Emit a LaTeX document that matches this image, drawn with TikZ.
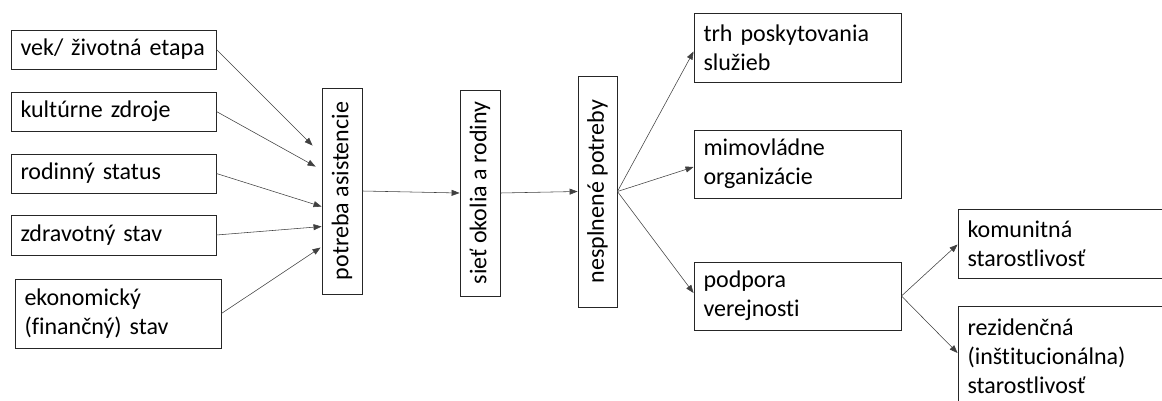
\documentclass[tikz,border=0pt]{standalone}
\usepackage{fontspec}
\setmainfont{Carlito}[Ligatures=NoCommon]
\usetikzlibrary{arrows.meta}
\tikzset{
  boxbase/.style={draw=black!85, line width=0.9pt, fill=white, inner xsep=9pt, inner ysep=0pt,
    font=\fontsize{24}{29}\selectfont},
  lbox/.style={boxbase, align=left, anchor=center},
  rbox/.style={boxbase, align=center, rotate=90, anchor=center},
  conn/.style={draw=black!75, line width=0.55pt, -{Triangle[length=8pt,width=6pt]}},
}
\begin{document}
\begin{tikzpicture}[x=1pt,y=-1pt]
\useasboundingbox (0,0) rectangle (1162,401);
\clip (0,0) rectangle (1162,401);
\fill[white] (0,0) rectangle (1162,401);
% left column
\node[lbox, minimum width=205pt, minimum height=39pt, text width=186pt] (vek) at (113.5,49.5) {vek/ životná etapa};
\node[lbox, minimum width=205pt, minimum height=39pt, text width=186pt] (kul) at (113.5,111.5) {kultúrne zdroje};
\node[lbox, minimum width=205pt, minimum height=39pt, text width=186pt] (rod) at (113.5,173.5) {rodinný status};
\node[lbox, minimum width=205pt, minimum height=40pt, text width=186pt] (zdr) at (113.5,235) {zdravotný stav};
\node[lbox, minimum width=206pt, minimum height=69pt, text width=187pt] (eko) at (118,313.5) {ekonomický\\(finančný) stav};
% vertical boxes
\node[rbox, minimum width=206pt, minimum height=40pt] (pa) at (342,191) {potreba asistencie};
\node[rbox, minimum width=206pt, minimum height=40pt] (so) at (480,193) {sieť okolia a rodiny};
\node[rbox, minimum width=231pt, minimum height=39pt] (ns) at (597.5,191.5) {nesplnené potreby};
% right column
\node[lbox, minimum width=207pt, minimum height=69pt, text width=188pt] (trh) at (797.5,47.5) {trh poskytovania\\služieb};
\node[lbox, minimum width=207pt, minimum height=68pt, text width=188pt] (mv) at (797.5,164) {mimovládne\\organizácie};
\node[lbox, minimum width=207pt, minimum height=68pt, text width=188pt] (pv) at (797.5,296) {podpora\\verejnosti};
\node[lbox, minimum width=230pt, minimum height=69pt, text width=211pt] (kom) at (1073,243.5) {komunitná\\starostlivosť};
\node[lbox, minimum width=230pt, minimum height=100pt, text width=211pt] (rez) at (1073,356) {rezidenčná\\(inštitucionálna)\\starostlivosť};
% connectors into potreba asistencie (pa.north east is the page upper-left corner of the rotated box)
\draw[conn] (vek.east) -- ([shift={(-9,58)}]pa.north east);
\draw[conn] (kul.east) -- ([shift={(-6,79)}]pa.north east);
\draw[conn] (rod.east) -- ([shift={(0,119)}]pa.north east);
\draw[conn] (zdr.east) -- ([shift={(0,139)}]pa.north east);
\draw[conn] (eko.east) -- ([shift={(-1,160)}]pa.north east);
% chain
\draw[conn] (pa.south) -- (so.north);
\draw[conn] (so.south) -- (ns.north);
% fan out
\draw[conn] (ns.south) -- ([yshift=-4pt]trh.west);
\draw[conn] (ns.south) -- ([yshift=-3pt]mv.west);
\draw[conn] (ns.south) -- ([yshift=3pt]pv.west);
\draw[conn] (pv.east) -- ([yshift=-1pt]kom.west);
\draw[conn] (pv.east) -- ([yshift=3pt]rez.west);
\end{tikzpicture}
\end{document}
